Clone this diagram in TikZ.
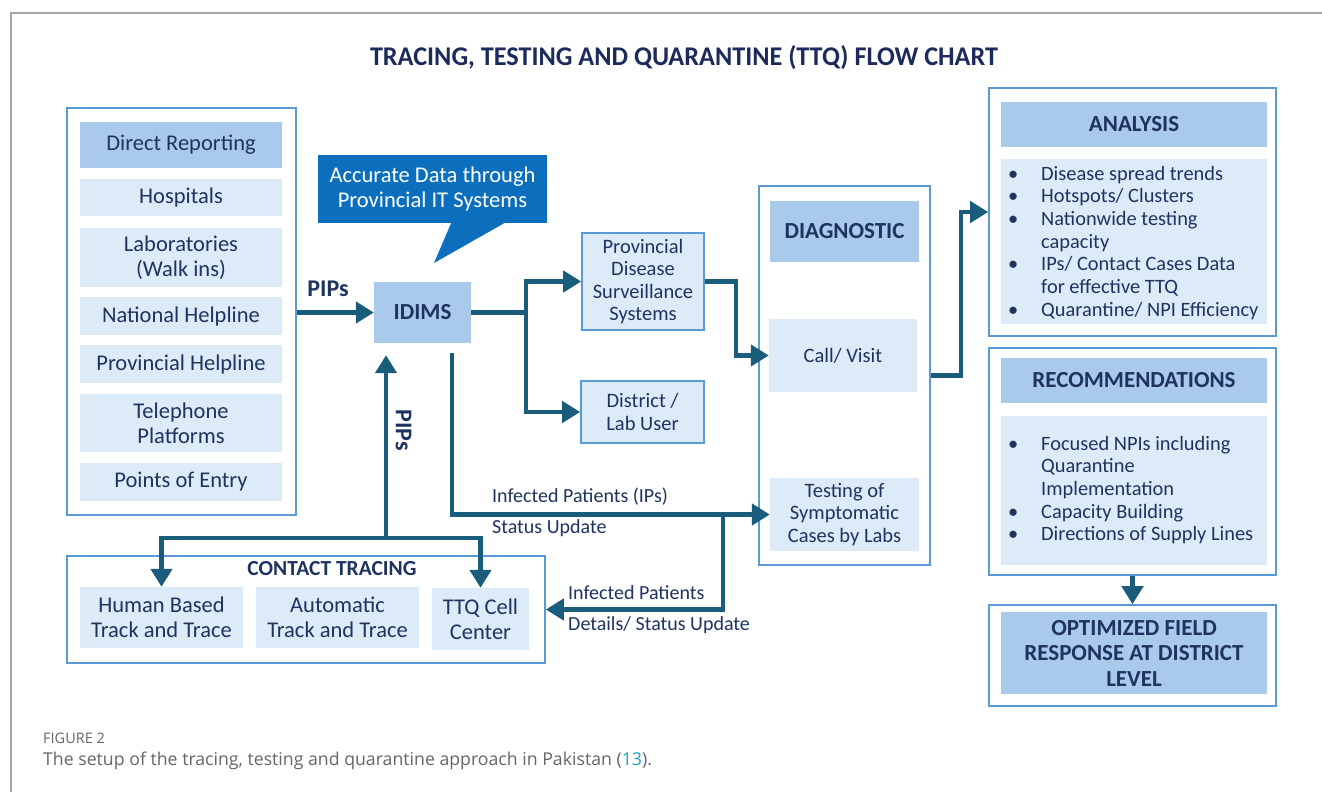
\documentclass[tikz,border=0pt]{standalone}
\usepackage{fontspec}
\usepackage{graphicx}
\setmainfont{Carlito}
\newfontfamily\capfont{Open Sans}
\usetikzlibrary{arrows.meta}
\definecolor{navy}{HTML}{1F3360}
\definecolor{titlec}{HTML}{1C2B5C}
\definecolor{boxlight}{HTML}{DDEAF7}
\definecolor{boxmid}{HTML}{A9CAEB}
\definecolor{bord}{HTML}{5B9BD5}
\definecolor{arrowc}{HTML}{1A5C7C}
\definecolor{callc}{HTML}{0B6FBE}
\definecolor{framec}{HTML}{A6A6A6}
\definecolor{capgray}{HTML}{666666}
\definecolor{capteal}{HTML}{1FA3C4}
\newcommand\rbox[7]{\node[#1, minimum width={(#5-#3)*1pt}, minimum height={(#6-#4)*1pt}] (#2) at ({(#3+#5)/2},{(#4+#6)/2}) {#7};}
\tikzset{
  lbox/.style={fill=boxlight, text=navy, align=center, inner sep=0pt, font=\fontsize{22.5}{25}\selectfont},
  sbox/.style={lbox, font=\fontsize{20.5}{22.5}\selectfont},
  hbox/.style={lbox, fill=boxmid, font=\fontsize{23}{25.5}\selectfont\bfseries},
  cont/.style={draw=bord, line width=1.6pt, fill=white, inner sep=0pt},
  bbox/.style={sbox, draw=bord, line width=1.6pt},
  conn/.style={draw=arrowc, line width=4.5pt},
  arr/.style={conn, -{Triangle[length=18pt,width=21pt]}},
  lab/.style={text=navy, anchor=west, inner sep=0pt, font=\fontsize{20}{22}\selectfont},
  blab/.style={text=navy, inner sep=0pt, font=\fontsize{24}{26}\selectfont\bfseries},
}
\begin{document}
\begin{tikzpicture}[x=1pt,y=-1pt]
\useasboundingbox (0,0) rectangle (1322,792);
\fill[white] (0,0) rectangle (1322,792);
\draw[framec, line width=1.3pt] (11,792) -- (11,13) -- (1322,13);

% title
\node[text=titlec, inner sep=0pt] (title) at (684,58)
  {\resizebox{628pt}{\height}{\fontsize{27}{29}\selectfont\bfseries TRACING, TESTING AND QUARANTINE (TTQ) FLOW CHART}};

% source container
\rbox{cont}{src}{67}{108}{296}{515}{}
\rbox{hbox, font=\fontsize{22.5}{25}\selectfont}{dr}{80}{122}{282}{168}{Direct Reporting}
\rbox{lbox}{hosp}{80}{179}{282}{216}{Hospitals}
\rbox{lbox}{labs}{80}{228}{282}{287}{Laboratories\\(Walk ins)}
\rbox{lbox}{nat}{80}{297}{282}{335}{National Helpline}
\rbox{lbox}{provh}{80}{345}{282}{383}{Provincial Helpline}
\rbox{lbox}{tel}{80}{394}{282}{452}{Telephone\\Platforms}
\rbox{lbox}{poe}{80}{463}{282}{501}{Points of Entry}

% IDIMS and callout
\rbox{hbox}{idims}{374}{282}{471}{343}{IDIMS}
\node[blab] (pips1) at (328,289) {PIPs};
\draw[arr] (src.east |- idims.west) -- (idims.west);

\node[fill=callc, text=white, minimum width=229pt, minimum height=68pt, inner sep=0pt, align=center,
      font=\fontsize{22.5}{25}\selectfont] (callout) at (432.5,189) {Accurate Data through\\Provincial IT Systems};
\fill[callc] (452,221) -- (434,263) -- (508,221) -- cycle;

% surveillance boxes
\rbox{bbox}{pdss}{582}{233}{704}{330}{Provincial\\Disease\\Surveillance\\Systems}
\rbox{bbox}{dist}{581}{381}{704}{443}{District /\\Lab User}
\draw[arr] (idims.east) -- ++(55,0) |- (pdss.west);
\draw[arr] (idims.east) -- ++(55,0) |- (dist.west);

% diagnostic
\rbox{cont}{diag}{759}{186}{930}{565}{}
\rbox{hbox}{diaghd}{770}{201}{919}{262}{DIAGNOSTIC}
\rbox{sbox}{call}{769}{319}{917}{392}{Call/ Visit}
\rbox{sbox}{test}{770}{478}{919}{551}{Testing of\\Symptomatic\\Cases by Labs}
\draw[arr] (pdss.east) -- ++(31,0) |- (call.west);

% analysis
\rbox{cont}{anl}{989}{88}{1276}{336}{}
\rbox{hbox}{anlhd}{1001}{102}{1267}{147}{ANALYSIS}
\rbox{lbox}{anllist}{1001}{159}{1267}{324}{}
\node[anchor=north west, inner sep=0pt, text=navy, font=\fontsize{20.4}{22.7}\selectfont] (anltext) at (1008,164)
 {\begin{tabular}{@{}p{33pt}@{}l@{}}
 • & Disease spread trends\\
 • & Hotspots/ Clusters\\
 • & Nationwide testing\\
   & capacity\\
 • & IPs/ Contact Cases Data\\
   & for effective TTQ\\
 • & Quarantine/ NPI Efficiency
 \end{tabular}};
\draw[arr] (diag.east) -- ++(30,0) |- (anl.west);

% recommendations
\rbox{cont}{rec}{989}{348}{1276}{575}{}
\rbox{hbox}{rechd}{1001}{358}{1267}{403}{RECOMMENDATIONS}
\rbox{lbox}{reclist}{1001}{416}{1267}{565}{}
\node[anchor=north west, inner sep=0pt, text=navy, font=\fontsize{20.4}{22.7}\selectfont] (rectext) at (1008,434)
 {\begin{tabular}{@{}p{33pt}@{}l@{}}
 • & Focused NPIs including\\
   & Quarantine\\
   & Implementation\\
 • & Capacity Building\\
 • & Directions of Supply Lines
 \end{tabular}};

% optimized
\rbox{cont}{opt}{989}{605}{1276}{706}{}
\rbox{hbox}{opthd}{1001}{612}{1267}{694}{OPTIMIZED FIELD\\RESPONSE AT DISTRICT\\LEVEL}
\draw[arr] (rec.south) -- (opt.north);

% contact tracing
\rbox{cont}{ct}{67}{556}{545}{663}{}
\node[blab, font=\fontsize{21.5}{24}\selectfont\bfseries] (cthd) at (332,569) {CONTACT TRACING};
\rbox{lbox}{hum}{80}{587}{243}{648}{Human Based\\Track and Trace}
\rbox{lbox}{auto}{256}{587}{419}{648}{Automatic\\Track and Trace}
\rbox{lbox}{ttq}{432}{588}{529}{650}{TTQ Cell\\Center}

% PIPs feedback
\coordinate (pj) at (386,538);
\draw[arr, shorten >=12pt] (pj) -- (pj |- idims.south);
\draw[arr] (pj) -| (hum.north);
\draw[arr] (pj) -| (ttq.north);
\node[blab, rotate=-90] (pips2) at (403.5,430) {PIPs};

% infected patients flows
\coordinate (d0) at (452,353);
\draw[arr] (d0) |- (test.west);
\coordinate (jt) at (723,514.5);
\draw[arr] (jt) |- (ct.east);
\node[lab] (l1) at (492,497) {Infected Patients (IPs)};
\node[lab] (l2) at (492,528) {Status Update};
\node[lab] (l3) at (568,593) {Infected Patients};
\node[lab] (l4) at (568,625) {Details/ Status Update};

% caption
\node[anchor=west, inner sep=0pt, text=capgray, font=\capfont\fontsize{14.5}{16}\selectfont] (figlab) at (43,738) {FIGURE 2};
\node[anchor=west, inner sep=0pt, text=capgray, font=\capfont\fontsize{17.7}{20}\selectfont] (figcap) at (43,761)
  {The setup of the tracing, testing and quarantine approach in Pakistan (\textcolor{capteal}{13}).};
\end{tikzpicture}
\end{document}
